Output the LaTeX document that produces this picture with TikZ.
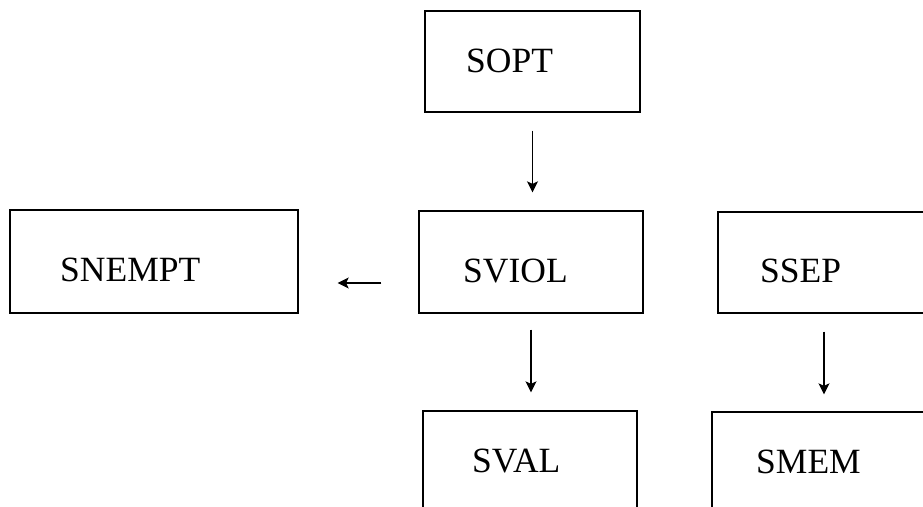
\documentclass[tikz,border=0pt]{standalone}
\usepackage{fontspec}
\setmainfont{Liberation Serif}
\usetikzlibrary{arrows.meta}
\tikzset{
  boxs/.style={draw=black, line width=1.3pt, rectangle, inner sep=0pt},
  lbl/.style={anchor=base west, inner sep=0pt, font=\fontsize{35.5}{36}\selectfont},
  arr/.style={draw=black, line width=1.4pt, -{Stealth[length=11pt,width=11pt,inset=2.5pt]}}
}
\begin{document}
\begin{tikzpicture}[x=1pt,y=-1pt]
\useasboundingbox (0,0) rectangle (923,506);
\clip (0,0) rectangle (923,506);
\fill[white] (0,0) rectangle (923,506);
% boxes
\node[boxs, minimum width=215pt, minimum height=101pt] (sopt) at (532.5,61.5) {};
\node[boxs, minimum width=288pt, minimum height=103pt] (snempt) at (154,261.5) {};
\node[boxs, minimum width=224pt, minimum height=102pt] (sviol) at (531,262) {};
\node[boxs, minimum width=212pt, minimum height=101pt] (ssep) at (824,262.5) {};
\node[boxs, minimum width=214pt, minimum height=115pt] (sval) at (530,468.5) {};
\node[boxs, minimum width=224pt, minimum height=115pt] (smem) at (824,469.5) {};
% labels
\node[lbl] (tsopt) at (466,72) {SOPT};
\node[lbl] (tsnempt) at (60,281) {SNEMPT};
\node[lbl] (tsviol) at (463,282) {SVIOL};
\node[lbl] (tssep) at (760,282) {SSEP};
\node[lbl] (tsval) at (472,472) {SVAL};
\node[lbl] (tsmem) at (756,473) {SMEM};
% arrows
\draw[arr, shorten <=18pt, shorten >=18pt] (sopt.south) -- (sopt.south |- sviol.north);
\draw[arr, shorten <=37pt, shorten >=39pt] ([yshift=-21pt]sviol.west) -- ([yshift=-21pt]sviol.west -| snempt.east);
\draw[arr, shorten <=16pt, shorten >=18pt] (sviol.south) -- (sviol.south |- sval.north);
\draw[arr, shorten <=18pt, shorten >=17pt] (ssep.south) -- (ssep.south |- smem.north);
\end{tikzpicture}
\end{document}
